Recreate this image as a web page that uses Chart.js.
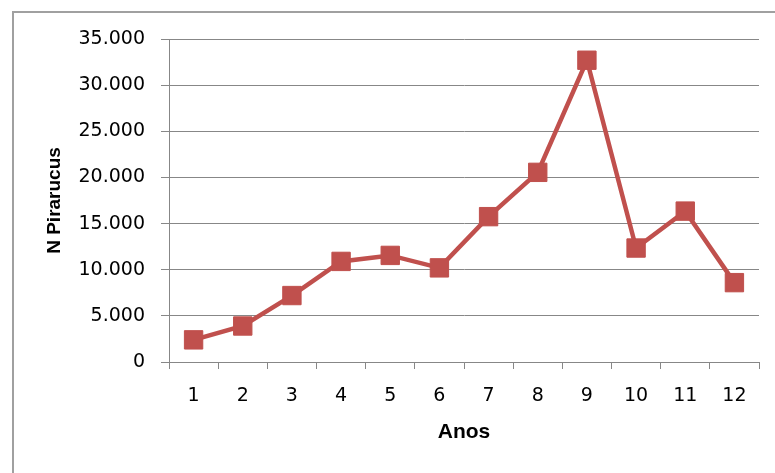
<!DOCTYPE html>
<html lang="pt">
<head>
  <meta charset="UTF-8"/>
  <title>N Pirarucus por ano</title>
  <script src="https://cdn.jsdelivr.net/npm/chart.js"></script>
  <style>
    body { margin: 0; padding: 0; background: #fff; }
    .wrap { position: relative; width: 775px; height: 473px; overflow: hidden; }
    .frame { position: absolute; left: 12px; top: 11px; width: 800px; height: 500px; border: 2px solid #a0a0a0; }
    canvas { position: absolute; left: 0; top: 0; }
  </style>
</head>
<body>
  <div class="wrap">
    <div class="frame"></div>
    <canvas id="chart" width="775" height="473"></canvas>
  </div>
<script>
const anos = ['1','2','3','4','5','6','7','8','9','10','11','12'];
const pirarucus = [2400, 3900, 7200, 10900, 11550, 10200, 15750, 20550, 32700, 12350, 16350, 8600];
const yTicks = [0, 5000, 10000, 15000, 20000, 25000, 30000, 35000];

const red = '#C0504D';
const grey = '#878787';

// formato brasileiro: 35.000
function fmt(v) {
  return String(v).replace(/\B(?=(\d{3})+(?!\d))/g, '.');
}

new Chart(document.getElementById('chart'), {
  type: 'line',
  data: {
    labels: anos,
    datasets: [{
      data: pirarucus,
      borderColor: red,
      backgroundColor: red,
      borderWidth: 4.5,
      pointStyle: 'rect',
      pointRadius: 13,
      pointBorderWidth: 1,
      pointBackgroundColor: red,
      pointBorderColor: red,
      tension: 0
    }]
  },
  options: {
    responsive: false,
    animation: false,
    layout: { padding: { top: 39, right: 16, left: 0, bottom: 0 } },
    plugins: { legend: { display: false }, tooltip: { enabled: false } },
    scales: {
      x: {
        offset: true,
        grid: { offset: true, drawOnChartArea: false, drawTicks: true, tickLength: 7, color: grey },
        border: { color: grey, width: 1 },
        ticks: { color: '#000', padding: 16, font: { family: 'DejaVu Sans', size: 19 } },
        title: {
          display: true, text: 'Anos', color: '#000',
          font: { family: 'Liberation Sans', size: 21, weight: 'bold' },
          padding: { top: 0, bottom: 28 }
        },
        afterFit: s => { s.height = 111; }
      },
      y: {
        min: 0, max: 35000,
        afterBuildTicks: s => { s.ticks = yTicks.map(v => ({ value: v })); },
        grid: { color: grey, tickLength: 8, lineWidth: 1 },
        border: { color: grey, width: 1 },
        ticks: { color: '#000', padding: 16, font: { family: 'DejaVu Sans', size: 19 }, callback: v => fmt(v) },
        title: {
          display: true, text: 'N Pirarucus', color: '#000',
          font: { family: "'Liberation Sans Narrow', 'Liberation Sans'", size: 19, weight: 'bold' },
          padding: { top: 43, bottom: 0 }
        },
        afterFit: s => { s.width = 169; }
      }
    }
  }
});
</script>
</body>
</html>
